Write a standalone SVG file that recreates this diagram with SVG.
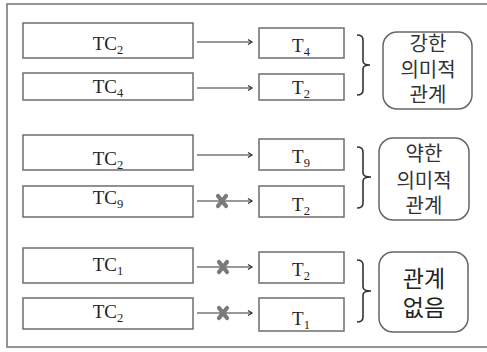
<svg xmlns="http://www.w3.org/2000/svg" width="487" height="352" viewBox="0 0 487 352">
<style>
.frame{fill:#fff;stroke:#7a7a7a;stroke-width:1.6}
.box{fill:#fff;stroke:#6e6e6e;stroke-width:1.5}
.rbox{fill:#fff;stroke:#666;stroke-width:1.5}
.t{font-family:"Liberation Serif","Times New Roman",serif;font-size:19px;fill:#222;text-anchor:middle}
.sub{font-size:12.5px}
.k{font-family:"Liberation Sans","Noto Sans CJK KR",sans-serif;font-size:20px;fill:#333;text-anchor:middle}
.k2{font-family:"Liberation Sans","Noto Sans CJK KR",sans-serif;font-size:23px;fill:#222;text-anchor:middle}
.arr{stroke:#333;stroke-width:1.2;fill:none;marker-end:url(#ah)}
.arrg{stroke:#777;stroke-width:1.6;fill:none;marker-end:url(#ah)}
.br{stroke:#333;stroke-width:1.6;fill:none}
.x{stroke:#7a7a7a;stroke-width:4.2;stroke-linecap:round}
</style>
<defs>
<marker id="ah" markerWidth="8" markerHeight="8" refX="6" refY="4" orient="auto" markerUnits="userSpaceOnUse">
<path d="M2,1.5 L6,4 L2,6.5" fill="none" stroke="#333" stroke-width="1.2"/>
</marker>
</defs>
<rect class="frame" x="7" y="4" width="490" height="343"/>

<g id="connectors">
<line class="arr" x1="197" y1="42" x2="252" y2="42"/>
<line class="arr" x1="197" y1="88" x2="252" y2="88"/>
<line class="arr" x1="197" y1="155" x2="252" y2="155"/>
<line class="arrg" x1="197" y1="201" x2="252" y2="201"/>
<line class="arrg" x1="197" y1="267" x2="252" y2="267"/>
<line class="arr" x1="197" y1="313" x2="252" y2="313"/>
<g id="x1"><line class="x" x1="218" y1="196" x2="226" y2="206"/><line class="x" x1="226" y1="196" x2="218" y2="206"/></g>
<g id="x2"><line class="x" x1="219" y1="262" x2="227" y2="272"/><line class="x" x1="227" y1="262" x2="219" y2="272"/></g>
<g id="x3"><line class="x" x1="219" y1="308" x2="227" y2="318"/><line class="x" x1="227" y1="308" x2="219" y2="318"/></g>
</g>

<g id="tc2a"><rect class="box" x="23" y="23" width="170" height="35"/><text class="t" x="108" y="50">TC<tspan class="sub" dy="4">2</tspan></text></g>
<g id="tc4"><rect class="box" x="23" y="73" width="170" height="27"/><text class="t" x="108" y="93">TC<tspan class="sub" dy="4">4</tspan></text></g>
<g id="t4"><rect class="box" x="259" y="28" width="85" height="30"/><text class="t" x="301" y="52">T<tspan class="sub" dy="4">4</tspan></text></g>
<g id="t2a"><rect class="box" x="259" y="74" width="85" height="26"/><text class="t" x="301" y="94">T<tspan class="sub" dy="4">2</tspan></text></g>
<g id="brace1"><path class="br" d="M357,35 Q363,35 363,40 L363,61 Q363,65 370,65 Q363,65 363,69 L363,90 Q363,95 357,95"/></g>
<g id="strong"><rect class="rbox" x="383" y="32" width="89" height="77" rx="14"/><text class="k" x="428" y="51">강한</text><text class="k" x="428" y="77">의미적</text><text class="k" x="428" y="102">관계</text></g>

<g id="tc2b"><rect class="box" x="23" y="135" width="170" height="35"/><text class="t" x="108" y="165">TC<tspan class="sub" dy="4">2</tspan></text></g>
<g id="tc9"><rect class="box" x="23" y="186" width="170" height="31"/><text class="t" x="108" y="204">TC<tspan class="sub" dy="4">9</tspan></text></g>
<g id="t9"><rect class="box" x="259" y="139" width="85" height="31"/><text class="t" x="301" y="163">T<tspan class="sub" dy="4">9</tspan></text></g>
<g id="t2b"><rect class="box" x="259" y="186" width="85" height="31"/><text class="t" x="301" y="211">T<tspan class="sub" dy="4">2</tspan></text></g>
<g id="brace2"><path class="br" d="M357,147 Q363,147 363,152 L363,173 Q363,177 371,177 Q363,177 363,181 L363,203 Q363,208 357,208"/></g>
<g id="weak"><rect class="rbox" x="379" y="138" width="90" height="82" rx="14"/><text class="k" x="424" y="161">약한</text><text class="k" x="424" y="188">의미적</text><text class="k" x="424" y="213">관계</text></g>

<g id="tc1"><rect class="box" x="23" y="248" width="170" height="35"/><text class="t" x="108" y="271">TC<tspan class="sub" dy="4">1</tspan></text></g>
<g id="tc2c"><rect class="box" x="23" y="298" width="170" height="31"/><text class="t" x="108" y="318">TC<tspan class="sub" dy="4">2</tspan></text></g>
<g id="t2c"><rect class="box" x="259" y="252" width="85" height="31"/><text class="t" x="301" y="276">T<tspan class="sub" dy="4">2</tspan></text></g>
<g id="t1"><rect class="box" x="259" y="298" width="85" height="33"/><text class="t" x="301" y="325">T<tspan class="sub" dy="4">1</tspan></text></g>
<g id="brace3"><path class="br" d="M357,260 Q363,260 363,265 L363,287 Q363,291 371,291 Q363,291 363,295 L363,317 Q363,322 357,322"/></g>
<g id="none"><rect class="rbox" x="379" y="252" width="89" height="80" rx="14"/><text class="k2" x="424" y="287">관계</text><text class="k2" x="424" y="316">없음</text></g>
</svg>
